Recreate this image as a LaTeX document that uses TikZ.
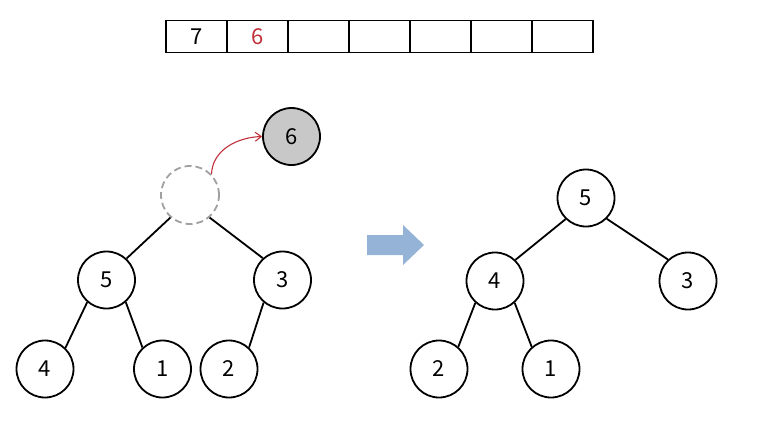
\documentclass[tikz,border=0pt]{standalone}
\usepackage{fontspec}
\setmainfont{Noto Sans CJK KR}
\usetikzlibrary{arrows.meta}
\definecolor{hred}{HTML}{C0303A}
\definecolor{hgray}{HTML}{C8C8C8}
\definecolor{dgray}{HTML}{A0A0A0}
\definecolor{arrblue}{HTML}{95B3D7}
\begin{document}
\begin{tikzpicture}[x=1pt,y=-1pt,
  hnode/.style={circle,draw=black,line width=1.8pt,minimum size=57pt,inner sep=0pt,font=\fontsize{22}{26}\selectfont},
  ghost/.style={circle,draw=dgray,dashed,dash pattern=on 7pt off 4pt,line width=1.8pt,minimum size=58pt,inner sep=0pt},
  cellbox/.style={draw=black,line width=1.2pt,minimum width=61pt,minimum height=32pt,inner sep=0pt,font=\fontsize{22}{26}\selectfont},
  edge/.style={line width=1.8pt}]
\useasboundingbox (0,0) rectangle (773,426);
% array
\foreach \i/\t/\c in {0/7/black,1/6/hred,2//black,3//black,4//black,5//black,6//black}{
  \node[cellbox,text=\c] (c\i) at (196.5+61*\i,36.7) {\t};
}
% left tree
\node[ghost] (g) at (190,195) {};
\node[hnode,fill=hgray] (six) at (291.5,136.5) {6};
\node[hnode] (l5) at (106.5,280) {5};
\node[hnode] (l3) at (282.5,280) {3};
\node[hnode] (l4) at (45,369) {4};
\node[hnode] (l1) at (162.5,369) {1};
\node[hnode] (l2) at (229,369) {2};
\draw[edge] (g.229) -- (l5.47);
\draw[edge] (g.311) -- (l3.132);
\draw[edge] (l5.229) -- (l4.46);
\draw[edge] (l5.311) -- (l1.133);
\draw[edge] (l3.230) -- (l2.47);
\draw[hred,line width=1.1pt,-{Straight Barb[length=6pt,width=9pt]}] (g.44) to[out=88,in=182] (six.west);
% big arrow
\fill[arrblue] (367,235) -- (403,235) -- (403,225) -- (424,245) -- (403,265) -- (403,255) -- (367,255) -- cycle;
% right tree
\node[hnode] (r5) at (586,198) {5};
\node[hnode] (r4) at (495,281) {4};
\node[hnode] (r3) at (688,281) {3};
\node[hnode] (r2) at (439,369) {2};
\node[hnode] (r1) at (551,369) {1};
\draw[edge] (r5.226) -- (r4.46);
\draw[edge] (r5.315) -- (r3.133);
\draw[edge] (r4.228) -- (r2.49);
\draw[edge] (r4.312) -- (r1.131);
\end{tikzpicture}
\end{document}
